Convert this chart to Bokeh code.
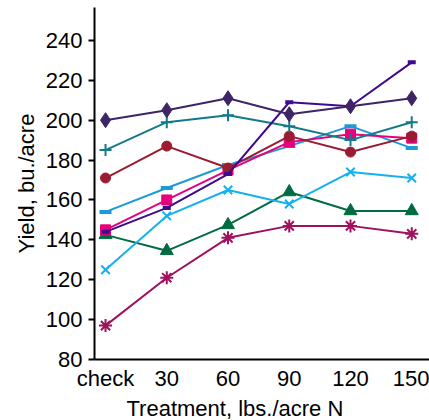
from bokeh.plotting import figure
from bokeh.models import Range1d, FixedTicker, Title
from bokeh.embed import file_html
from bokeh.resources import INLINE

treatments = ["check", "30", "60", "90", "120", "150"]
x_pos = [0, 1, 2, 3, 4, 5]

s_diamond = [200, 205, 211, 203, 207, 211]
s_plus = [185, 199, 202.5, 197, 190, 199]
s_circle = [171, 187, 176, 192, 184, 192]
s_indigo = [144, 156, 173, 209, 207, 229]
s_square = [145, 160, 175, 189, 193, 191]
s_bluedash = [154, 166, 177.5, 187, 197, 186]
s_x = [125, 152, 165, 158, 174, 171]
s_triangle = [142.5, 134.5, 147.5, 164, 154.5, 154.5]
s_asterisk = [97, 121, 141, 147, 147, 143]

FONT = "Liberation Sans"

p = figure(width=429, height=420, output_backend="svg", toolbar_location=None,
           x_range=Range1d(-0.18, 5.29), y_range=Range1d(80, 256.5),
           min_border_left=94, min_border_right=0, min_border_top=7, min_border_bottom=60)
p.outline_line_color = None
p.xgrid.visible = False
p.ygrid.visible = False
p.background_fill_color = "white"
p.border_fill_color = "white"

series = [
    (s_triangle, "#006B40", "triangle", 13, 1),
    (s_asterisk, "#A0105E", "asterisk", 13, 2),
    (s_x, "#14B1EC", "x", 12, 2),
    (s_bluedash, "#1C9AD6", "dash", 12, 4),
    (s_square, "#E6007E", "square", 10, 1),
    (s_circle, "#9B1B30", "circle", 10, 1),
    (s_plus, "#137A8A", "cross", 12, 2),
    (s_indigo, "#3F0A8C", "dash", 8, 4),
    (s_diamond, "#3D2566", "diamond", 15, 1),
]

for vals, col, mk, sz, lw in series:
    p.line(x_pos, vals, line_color=col, line_width=2)
    p.scatter(x_pos, vals, marker=mk, size=sz, fill_color=col, line_color=col,
              line_width=lw)

xa = p.xaxis[0]
xa.ticker = FixedTicker(ticks=x_pos)
xa.major_label_overrides = {i: t for i, t in zip(x_pos, treatments)}
xa.major_tick_out = 0
xa.major_tick_in = 0
xa.minor_tick_out = 0
xa.minor_tick_in = 0
xa.axis_line_width = 2
xa.axis_line_color = "black"
xa.major_label_text_font = FONT
xa.major_label_text_font_size = "22px"
xa.major_label_text_color = "black"
xa.major_label_standoff = 6

# x-axis title as a bottom title (reference places it left of frame centre)
p.add_layout(Title(text="Treatment, lbs./acre N", align="left", offset=32,
                   text_font=FONT, text_font_size="22px", text_color="black",
                   text_font_style="normal", standoff=0), "below")

ya = p.yaxis[0]
ya.ticker = FixedTicker(ticks=[80, 100, 120, 140, 160, 180, 200, 220, 240])
ya.major_tick_out = 6
ya.major_tick_in = 0
ya.minor_tick_out = 0
ya.minor_tick_in = 0
ya.major_tick_line_width = 2
ya.axis_line_width = 2
ya.axis_line_color = "black"
ya.major_label_text_font = FONT
ya.major_label_text_font_size = "22px"
ya.major_label_text_color = "black"
ya.major_label_standoff = 6
ya.axis_label = "Yield, bu./acre"
ya.axis_label_text_font = FONT
ya.axis_label_text_font_size = "22px"
ya.axis_label_text_font_style = "normal"
ya.axis_label_text_color = "black"
ya.axis_label_standoff = 4

open("out.html", "w").write(file_html(p, INLINE))
